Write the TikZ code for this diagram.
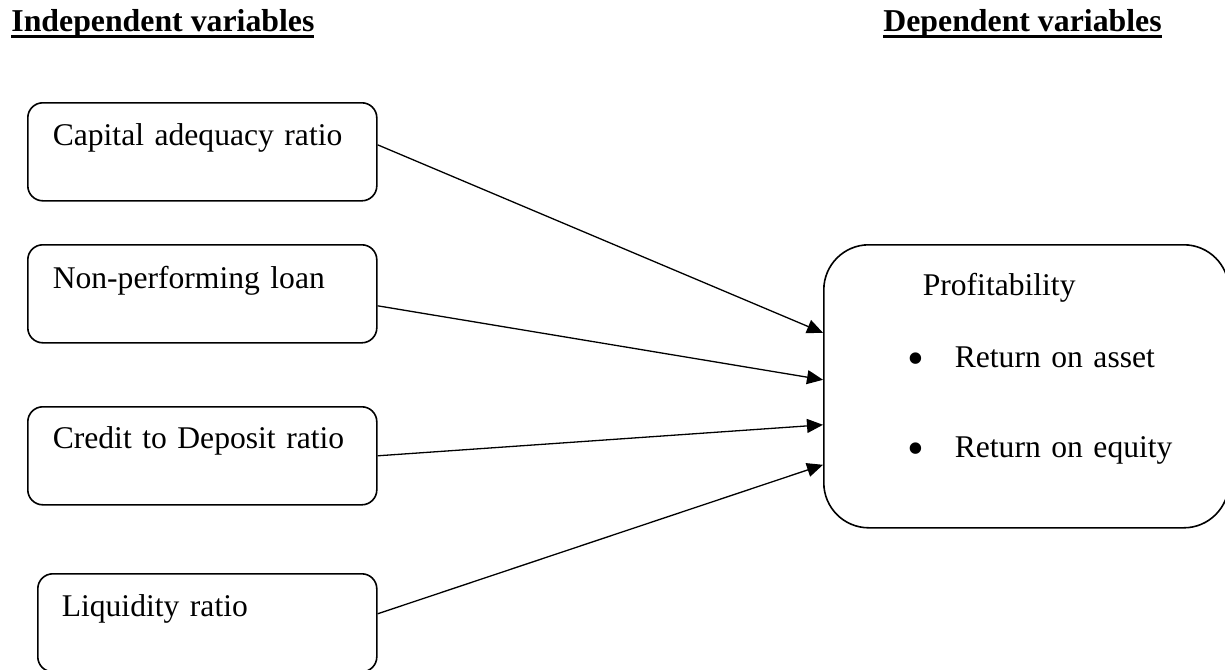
\documentclass[tikz,border=0pt]{standalone}
\usepackage{fontspec}
\setmainfont{Liberation Serif}
\usetikzlibrary{arrows.meta}
\newcommand\ulhead[1]{\setbox0=\hbox{#1}\rlap{\rule[-2.8pt]{\wd0}{1.5pt}}\box0}
\newcommand\bigdot{\makebox[23.5pt][l]{\raisebox{-3.5pt}{\fontsize{24}{19}\selectfont\textbullet}}}
\tikzset{
  varbox/.style={draw, line width=0.8pt, rounded corners=7.5pt, anchor=north west,
    inner xsep=12.5pt, inner ysep=0pt, align=left,
    font=\fontsize{15.8}{19}\selectfont},
  head/.style={anchor=base west, inner sep=0pt,
    font=\fontsize{15.9}{19}\selectfont\bfseries},
  link/.style={line width=0.65pt, -{Triangle[length=8pt,width=7pt]}},
}
\begin{document}
\begin{tikzpicture}[x=0.5pt, y=-0.5pt]
    \useasboundingbox (0,0) rectangle (1225,669);

    % column headings
    \node [head] (indep) at (11,32) {\ulhead{Independent variables}};
    \node [head] (dep) at (883,32) {\ulhead{Dependent variables}};

    % independent variables
    \node [varbox, text width=149.5pt, text height=21.5pt, text depth=27.5pt] (car) at (27,102) {Capital adequacy ratio};
    \node [varbox, text width=149.5pt, text height=22pt, text depth=27pt] (npl) at (27,244) {Non-performing loan};
    \node [varbox, text width=149.5pt, text height=21pt, text depth=28pt] (cdr) at (27,406) {Credit to Deposit ratio};
    \node [varbox, inner xsep=12pt, text width=145.5pt, text height=21.5pt, text depth=27.5pt] (liq) at (37,573) {Liquidity ratio};

    % dependent variable
    \node [varbox, rounded corners=22.5pt, inner xsep=42pt, text width=118.5pt,
           text height=25.5pt, text depth=116pt] (prof) at (823,244)
      {\hspace*{7.5pt}Profitability\\[17pt]
       \mbox{\bigdot Return on asset}\\[26pt]
       \mbox{\bigdot Return on equity}};

    % arrows
    \draw [link] ([yshift=3.5pt]car.east) -- ([yshift=26.75pt]prof.west);
    \draw [link] ([yshift=-6pt]npl.east) -- ([yshift=3.25pt]prof.west);
    \draw [link] (cdr.east) -- ([yshift=-19.25pt]prof.west);
    \draw [link] ([yshift=4.5pt]liq.east) -- ([yshift=-39.25pt]prof.west);
\end{tikzpicture}
\end{document}
